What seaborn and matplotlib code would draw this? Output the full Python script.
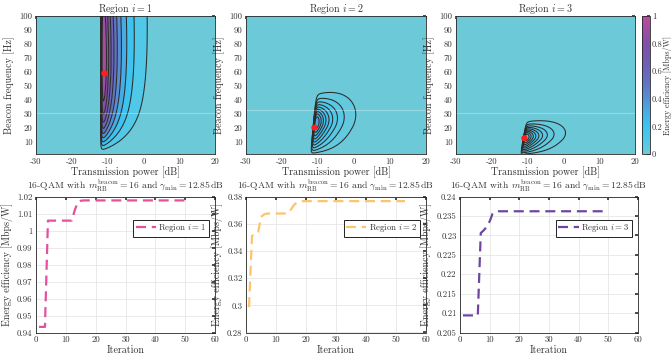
import numpy as np
import pandas as pd
import matplotlib
matplotlib.use("Agg")
import matplotlib.pyplot as plt
import seaborn as sns
from matplotlib.colors import LinearSegmentedColormap, Normalize
from matplotlib.cm import ScalarMappable

# ---------------- data ----------------
region_ids = [1, 2, 3]
power_ticks_db = [-30, -20, -10, 0, 10, 20]
freq_ticks_hz = [10, 20, 30, 40, 50, 60, 70, 80, 90, 100]
cbar_ticks = [0, 0.2, 0.4, 0.6, 0.8, 1.0]
iter_ticks = [0, 10, 20, 30, 40, 50, 60]

# optimum operating point of each region (red markers)
opt_power_db = [-10.9, -11.0, -10.9]
opt_freq_hz = [58.9, 19.9, 12.3]

# energy efficiency [Mbps/W] per iteration of the optimiser
ee_region1 = ([0.9433] * 3 + [1.0058] * 9 + [1.0120, 1.0165, 1.0175] + [1.0177] * 36)
ee_region2 = ([0.2986, 0.3510, 0.3525, 0.3530, 0.3650, 0.3668] + [0.3675] * 8
              + [0.3705, 0.3738, 0.3756, 0.3762] + [0.3766] * 35)
ee_region3 = ([0.2094] * 6 + [0.2306, 0.2313, 0.2322, 0.2336, 0.2356, 0.2360]
              + [0.2362] * 37)
ee_series = [ee_region1, ee_region2, ee_region3]
peak_ee = [max(s) for s in ee_series]

ee_ylim = [(0.94, 1.02), (0.28, 0.38), (0.205, 0.24)]
ee_ystep = [0.01, 0.02, 0.005]

# parameters of the efficiency surface over (power, beacon frequency)
cut_power_db = [-12.0, -12.15, -12.05]     # SNR-constraint boundary at f = 0
cut_slope_db_per_hz = [0.0, 0.037, 0.067]
rise_offset_hz = [0.5, 0.0, 0.0]
rise_scale_hz = [15.0, 45.0, 25.0]
rise_power = [1.5, 1.0, 1.0]
knee_hz = [55.0, 20.0, 11.0]
fall_width_hz = [150.0, 13.6, 7.5]
fall_spread = [0.0, 0.89, 0.49]
decay_db = [2.4, 4.4, 4.4]
decay_gain_db = [2.3, 0.0, 0.0]
decay_slope = [0.006, 0.0, 0.0]
onset_db = 0.3
seam_freq_hz = [30.1, 32.3, 30.2]

line_colors = ["#e4509f", "#fdc46e", "#6e46a0"]

# ---------------- style ----------------
sns.set_theme(style="white")
plt.rcParams.update({
    "font.family": ["cmr10", "DejaVu Serif"],
    "mathtext.fontset": "cm",
    "axes.unicode_minus": False,
    "axes.formatter.use_mathtext": False,
    "axes.edgecolor": "#262626",
    "axes.linewidth": 0.6,
    "xtick.color": "#333333",
    "ytick.color": "#333333",
    "text.color": "#333333",
    "axes.labelcolor": "#333333",
})

ee_cmap = LinearSegmentedColormap.from_list(
    "ee", [(0.0, "#6ccad8"), (0.1, "#50c8e8"), (0.2, "#3cc4f0"), (0.3, "#45aee6"),
           (0.4, "#5590d6"), (0.5, "#6076c5"), (0.6, "#6a66ba"), (0.7, "#7459af"),
           (0.8, "#8050a8"), (0.9, "#a04ca4"), (1.0, "#c04aa0")])
ee_norm = Normalize(0, 1)

W, H = 671, 356
fig = plt.figure(figsize=(W / 100, H / 100), dpi=100)


def px_axes(x0, y0, x1, y1):
    return fig.add_axes([x0 / W, 1 - y1 / H, (x1 - x0) / W, (y1 - y0) / H])


top_axes = [px_axes(36, 16, 215, 154), px_axes(246, 16, 426, 154), px_axes(456, 16, 635, 154)]
bot_axes = [px_axes(36, 196.5, 215, 332.5), px_axes(246, 196.5, 426, 332.5),
            px_axes(460, 196.5, 638, 332.5)]
cax = px_axes(642, 16, 650, 154)

power = np.linspace(-30, 20, 1001)
freq = np.linspace(1, 100, 496)
PP, FF = np.meshgrid(power, freq)


def efficiency_surface(k):
    d = PP - (cut_power_db[k] + cut_slope_db_per_hz[k] * FF)
    dpos = np.clip(d, 0, None)
    rise = np.clip(1 - np.exp(-(FF - rise_offset_hz[k]) / rise_scale_hz[k]), 0, None) ** rise_power[k]
    width = fall_width_hz[k] + fall_spread[k] * dpos
    fall = np.exp(-(np.clip(FF - knee_hz[k], 0, None) / width) ** 2)
    decay = decay_db[k] + decay_gain_db[k] * (1 - np.exp(-FF / 14)) + decay_slope[k] * FF
    onset = 1 - np.exp(-dpos / onset_db)
    z = rise * fall * onset * np.exp(-dpos / decay)
    z = np.where(d > 0, z, 0.0)
    return peak_ee[k] * z / z.max()


tick_fs, label_fs, title_fs = 6.3, 7.2, 6.9

for k, ax in enumerate(top_axes):
    Z = efficiency_surface(k)
    levels = np.linspace(0, peak_ee[k], 11)
    band_colors = [ee_cmap(ee_norm(v)) for v in levels[:-1]]
    ax.contourf(power, freq, Z, levels=levels, colors=band_colors, antialiased=True)
    ax.contour(power, freq, Z, levels=levels[1:-1], colors="#2a2a2a", linewidths=0.75)
    ax.axhline(seam_freq_hz[k], color="white", alpha=0.3, lw=0.8)
    sns.scatterplot(x=[opt_power_db[k]], y=[opt_freq_hz[k]], ax=ax, color="#ff1f1f",
                    s=20, edgecolor="none", zorder=6, legend=False)
    ax.set_xlim(-30, 20)
    ax.set_ylim(1, 100)
    ax.set_xticks(power_ticks_db)
    ax.set_yticks(freq_ticks_hz)
    ax.tick_params(labelsize=tick_fs, direction="in", length=2, top=True, right=True, pad=2.5)
    ax.set_xlabel("Transmission power [dB]", fontsize=label_fs, labelpad=0.5)
    ax.set_ylabel("Beacon frequency [Hz]", fontsize=label_fs, labelpad=3)
    ax.set_title(f"Region $i = {region_ids[k]}$", fontsize=title_fs + 0.3, pad=3)

cb = fig.colorbar(ScalarMappable(norm=ee_norm, cmap=ee_cmap), cax=cax, ticks=cbar_ticks)
cb.ax.set_yticklabels([f"{t:g}" for t in cbar_ticks])
cb.ax.tick_params(labelsize=6.0, direction="in", length=2, pad=1.5)
cb.outline.set_linewidth(0.6)
cax.text(3.1, 0.5, "Energy efficiency [Mbps/W]", transform=cax.transAxes,
         rotation=90, ha="center", va="center", fontsize=5.8)

bottom_title = r"16-QAM with $m_{\mathrm{RB}}^{\mathrm{beacon}} = 16$ and $\gamma_{\mathrm{min}} = 12.85\,\mathrm{dB}$"

for k, ax in enumerate(bot_axes):
    vals = ee_series[k]
    df = pd.DataFrame({"Iteration": np.arange(1, len(vals) + 1), "EE": vals})
    sns.lineplot(data=df, x="Iteration", y="EE", ax=ax, color=line_colors[k], lw=1.6,
                 label=f"Region $i = {region_ids[k]}$")
    ax.lines[0].set_dashes((4.5, 2.6))
    lo, hi = ee_ylim[k]
    ax.set_ylim(lo, hi)
    ax.set_xlim(0, 60)
    ax.set_xticks(iter_ticks)
    yt = np.round(np.arange(lo, hi + ee_ystep[k] / 2, ee_ystep[k]), 4)
    ax.set_yticks(yt)
    ax.set_yticklabels([f"{v:g}" for v in yt])
    ax.grid(True, color="#e6e6e6", lw=0.6)
    ax.tick_params(labelsize=tick_fs, direction="in", length=2, top=True, right=True, pad=2.5)
    ax.set_xlabel("Iteration", fontsize=label_fs, labelpad=1)
    ax.set_ylabel("Energy efficiency [Mbps/W]", fontsize=label_fs, labelpad=3)
    ax.set_title(bottom_title, fontsize=title_fs, pad=5.4)
    leg = ax.legend(loc="upper right", bbox_to_anchor=(0.965, 0.83), fontsize=6.3,
                    frameon=True, fancybox=False, framealpha=1, edgecolor="#222222",
                    handlelength=2.3, handletextpad=0.3, borderpad=0.3, borderaxespad=0)
    leg.get_frame().set_linewidth(0.7)

fig.savefig("out.png", dpi=100)
